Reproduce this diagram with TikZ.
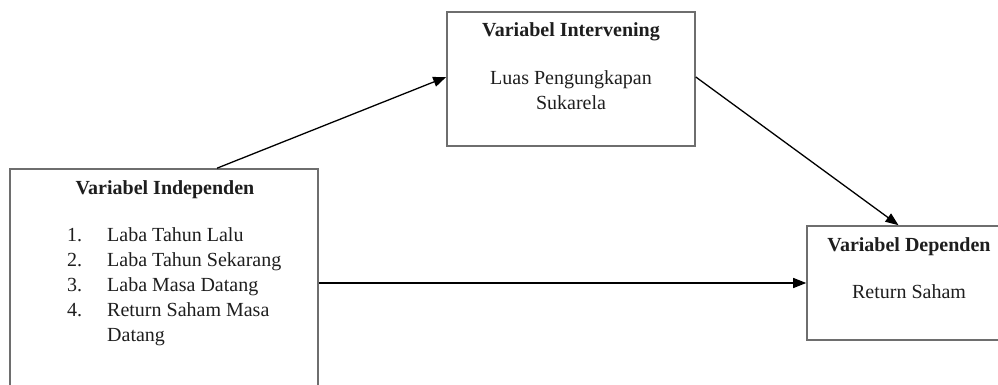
\documentclass[tikz,border=0pt]{standalone}
\usepackage{fontspec}
\setmainfont{Liberation Serif}
\usetikzlibrary{arrows.meta}
\definecolor{boxgray}{HTML}{6E6E6E}
\definecolor{txt}{HTML}{1E1E1E}
\begin{document}
\begin{tikzpicture}[x=1pt,y=-1pt,
  box/.style={draw=boxgray,line width=1.6pt,minimum width=#1,inner sep=0pt},
  conn/.style={line width=1.3pt,-{Triangle[length=13pt,width=10pt]}},
  lbl/.style={text=txt,font=\fontsize{20}{25}\selectfont,inner sep=0pt},
  ttl/.style={lbl,font=\fontsize{20}{25}\selectfont\bfseries}]
\useasboundingbox (0,0) rectangle (998,385);
\clip (0,0) rectangle (998,385);
% boxes
\node[box=308pt,minimum height=245pt] (lb) at (164,291.5) {};
\node[box=248pt,minimum height=134pt] (ib) at (571,79) {};
\node[box=205pt,minimum height=114pt] (dp) at (909.5,283) {};
% texts
\node[ttl] (lbt) at (165,190) {Variabel Independen};
\node[lbl,anchor=north west] (lbl1) at (67,224) {%
  \begin{tabular}{@{}p{40pt}@{}l@{}}
  1. & Laba Tahun Lalu\\
  2. & Laba Tahun Sekarang\\
  3. & Laba Masa Datang\\
  4. & Return Saham Masa\\
     & Datang
  \end{tabular}};
\node[ttl] (ibt) at (571,32) {Variabel Intervening};
\node[lbl,align=center,anchor=north] (ibb) at (571,70) {Luas Pengungkapan\\Sukarela};
\node[ttl] (dpt) at (909,247) {Variabel Dependen};
\node[lbl] (dpb) at (909,292) {Return Saham};
% connectors
\draw[conn] ([xshift=53pt]lb.north) -- ([yshift=2pt]ib.west);
\draw[conn] ([yshift=2pt]ib.east) -- ([xshift=-11pt]dp.north);
\draw[conn] (lb.east |- dp.west) -- (dp.west);
\end{tikzpicture}
\end{document}
